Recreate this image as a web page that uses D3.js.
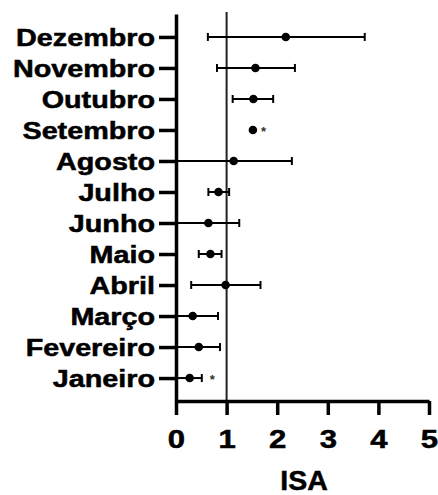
<!DOCTYPE html>
<html>
<head>
<meta charset="utf-8">
<script src="https://cdn.jsdelivr.net/npm/d3@7"></script>
<style>
  html, body { margin: 0; padding: 0; background: #fff; }
  svg { display: block; }
</style>
</head>
<body>
<div id="chart"></div>
<script>
// ---- Data ----
const months = ["Janeiro", "Fevereiro", "Março", "Abril", "Maio", "Junho",
                "Julho", "Agosto", "Setembro", "Outubro", "Novembro", "Dezembro"];
const means  = [0.27, 0.45, 0.33, 0.98, 0.68, 0.64, 0.84, 1.14, 1.52, 1.53, 1.57, 2.17];
const lows   = [0.00, 0.02, 0.00, 0.30, 0.45, 0.00, 0.64, 0.00, 1.52, 1.12, 0.81, 0.63];
const highs  = [0.51, 0.87, 0.83, 1.67, 0.90, 1.25, 1.05, 2.29, 1.52, 1.92, 2.35, 3.73];
const stars  = ["*", "", "", "", "", "", "", "", "*", "", "", ""];
const xTicks = [0, 1, 2, 3, 4, 5];
const refValue = 1;
const xTitle = "ISA";

const W = 438, H = 495;
const svg = d3.select("#chart").append("svg").attr("width", W).attr("height", H);

const x = d3.scaleLinear().domain([0, 5]).range([176, 429]);
const y = d3.scalePoint().domain(months).range([401, 14]).padding(0.74);

const rows = months.map((m, i) => ({m, mean: means[i], lo: lows[i], hi: highs[i], star: stars[i]}));

// reference line at x = 1
svg.append("line")
  .attr("x1", x(refValue)).attr("x2", x(refValue))
  .attr("y1", 12).attr("y2", 401)
  .attr("stroke", "#222").attr("stroke-width", 2);

// error bars
const g = svg.append("g");
const capH = 4;
rows.forEach(d => {
  const yy = y(d.m);
  if (d.hi > d.lo) {
    g.append("line").attr("x1", x(d.lo)).attr("x2", x(d.hi)).attr("y1", yy).attr("y2", yy)
      .attr("stroke", "#000").attr("stroke-width", 2);
    [d.lo, d.hi].forEach(v => {
      g.append("line").attr("x1", x(v)).attr("x2", x(v)).attr("y1", yy - capH).attr("y2", yy + capH)
        .attr("stroke", "#000").attr("stroke-width", 2);
    });
  }
  g.append("circle").attr("cx", x(d.mean)).attr("cy", yy).attr("r", 4.3).attr("fill", "#000");
  if (d.star) {
    g.append("text").attr("x", x(d.hi) + 8).attr("y", yy + 6)
      .attr("font-family", "Liberation Sans, Arial, sans-serif").attr("font-size", 13)
      .attr("font-weight", "bold").attr("fill", "#333").text(d.star);
  }
});

// Y axis
const yAxis = svg.append("g").attr("transform", "translate(176,0)")
  .call(d3.axisLeft(y).tickSize(17).tickSizeOuter(0).tickPadding(4));
yAxis.select(".domain").attr("stroke", "#000").attr("stroke-width", 3.5);
yAxis.selectAll(".tick line").attr("stroke", "#000").attr("stroke-width", 3.5);
yAxis.selectAll(".tick text")
  .attr("font-family", "Liberation Sans, Arial, sans-serif")
  .attr("font-weight", "bold").attr("font-size", 23).attr("fill", "#000")
  .attr("stroke", "#000").attr("stroke-width", 0.5)
  .attr("x", null).attr("dy", null)
  .attr("transform", "translate(-21,8.5) scale(1.25,1)");

// X axis
const xAxis = svg.append("g").attr("transform", "translate(0,401)")
  .call(d3.axisBottom(x).tickValues(xTicks).tickFormat(d3.format("d")).tickSize(14).tickSizeOuter(0));
xAxis.select(".domain").attr("stroke", "#000").attr("stroke-width", 3.5);
xAxis.selectAll(".tick line").attr("stroke", "#000").attr("stroke-width", 3.5);
xAxis.selectAll(".tick text")
  .attr("font-family", "Liberation Sans, Arial, sans-serif")
  .attr("font-weight", "bold").attr("font-size", 25.5).attr("fill", "#000")
  .attr("stroke", "#000").attr("stroke-width", 0.5)
  .attr("y", null).attr("dy", null)
  .attr("transform", "translate(0,47) scale(1.22,1)");

// X title
svg.append("text").attr("x", 304).attr("y", 490).attr("text-anchor", "middle")
  .attr("font-family", "Liberation Sans, Arial, sans-serif")
  .attr("font-weight", "bold").attr("font-size", 28.5).attr("fill", "#000")
  .attr("stroke", "#000").attr("stroke-width", 0.5)
  .text(xTitle);
</script>
</body>
</html>
